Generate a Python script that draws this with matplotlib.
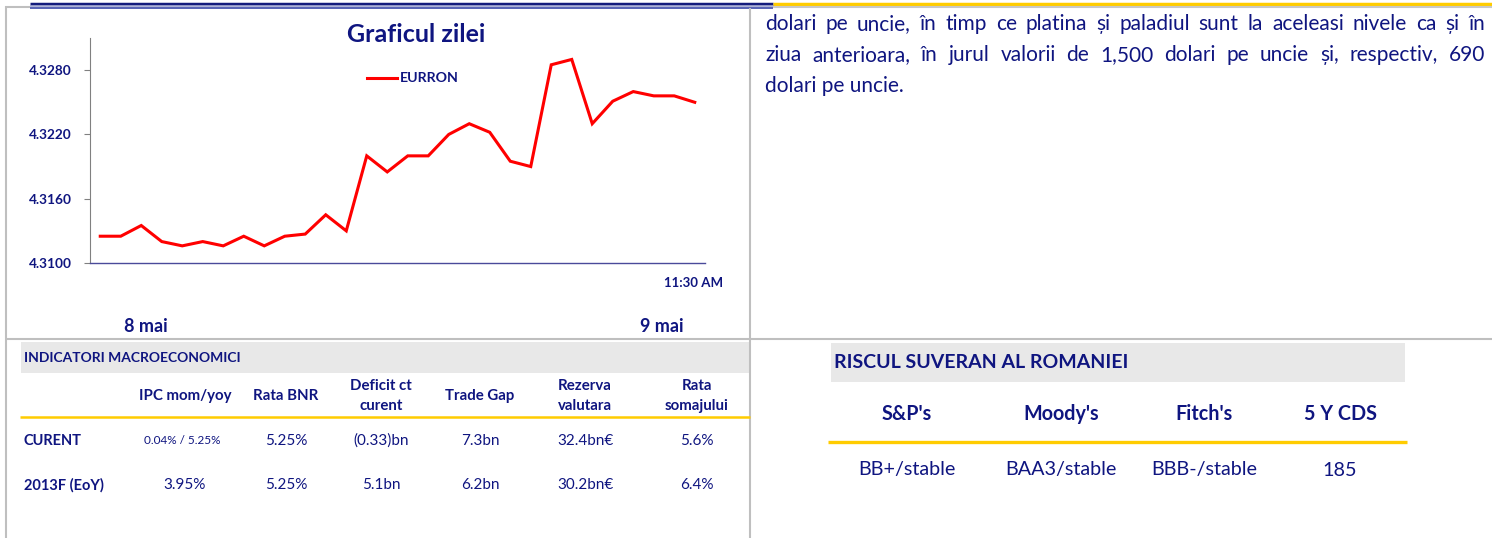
import matplotlib
matplotlib.use("Agg")
import matplotlib.pyplot as plt
from matplotlib.lines import Line2D
from matplotlib.patches import Rectangle

plt.rcParams['font.family'] = ['Lato', 'DejaVu Sans']

W, H = 1492, 538
NAVY = '#0F1580'
GOLD = '#FFCC00'
GREY = '#BFBFBF'
BAND = '#E8E8E8'

# ---------------- data ----------------
eurron = [4.3125, 4.3125, 4.3135, 4.3120, 4.3116, 4.3120, 4.3116, 4.3125, 4.3116, 4.3125,
          4.3127, 4.3145, 4.3130, 4.3200, 4.3185, 4.3200, 4.3200, 4.3220, 4.3230, 4.3222,
          4.3195, 4.3190, 4.3285, 4.3290, 4.3230, 4.3251, 4.3260, 4.3256, 4.3256, 4.3250]
yticks = [4.3100, 4.3160, 4.3220, 4.3280]
ytick_labels = ['4.3100', '4.3160', '4.3220', '4.3280']
chart_title = 'Graficul zilei'
series_name = 'EURRON'
time_label = '11:30 AM'
day_labels = ['8 mai', '9 mai']

paragraph = ['dolari pe uncie, în timp ce platina și paladiul sunt la aceleasi nivele ca și în',
             'ziua anterioara, în jurul valorii de 1,500 dolari pe uncie și, respectiv, 690',
             'dolari pe uncie.']

macro_title = 'INDICATORI MACROECONOMICI'
macro_cols = ['IPC mom/yoy', 'Rata BNR', 'Deficit ct\ncurent', 'Trade Gap', 'Rezerva\nvalutara', 'Rata\nsomajului']
macro_rows = ['CURENT', '2013F (EoY)']
macro_curent = ['0.04% / 5.25%', '5.25%', '(0.33)bn', '7.3bn', '32.4bn€', '5.6%']
macro_2013 = ['3.95%', '5.25%', '5.1bn', '6.2bn', '30.2bn€', '6.4%']

risk_title = 'RISCUL SUVERAN AL ROMANIEI'
risk_cols = ["S&P's", "Moody's", "Fitch's", "5 Y CDS"]
risk_vals = ['BB+/stable', 'BAA3/stable', 'BBB-/stable', '185']

# ---------------- figure ----------------
fig = plt.figure(figsize=(W / 100, H / 100), dpi=100)

def fx(x):
    return x / W

def fy(y):
    return 1 - y / H

def hline(x0, x1, y, color, lw):
    fig.add_artist(Line2D([fx(x0), fx(x1)], [fy(y), fy(y)], color=color, lw=lw,
                          transform=fig.transFigure, solid_capstyle='butt'))

def vline(x, y0, y1, color, lw):
    fig.add_artist(Line2D([fx(x), fx(x)], [fy(y0), fy(y1)], color=color, lw=lw,
                          transform=fig.transFigure, solid_capstyle='butt'))

def band(x0, y0, x1, y1, color):
    fig.add_artist(Rectangle((fx(x0), fy(y1)), fx(x1) - fx(x0), fy(y0) - fy(y1),
                             transform=fig.transFigure, facecolor=color, edgecolor='none'))

def txt(x, y, s, size, bold=False, ha='center', va='center', **kw):
    return fig.text(fx(x), fy(y), s, fontsize=size, fontweight='bold' if bold else 'normal',
                    color=NAVY, ha=ha, va=va, **kw)

# page decorations
hline(30, 773, 4.0, '#141C7C', 2.5)
hline(30, 773, 6.3, '#A8AED4', 1.2)
hline(30, 773, 8.0, '#3A48A8', 1.2)
hline(773, 1492, 4.0, GOLD, 2.5)
hline(773, 1492, 7.0, '#C8C8C8', 1.5)
hline(5, 30, 6.5, GREY, 1.5)
vline(5.5, 6, 538, GREY, 1.5)
vline(750, 8, 538, GREY, 1.5)
hline(5, 1492, 338.5, GREY, 1.5)

# ---------------- chart ----------------
ax = fig.add_axes([fx(90), fy(263), fx(705) - fx(90), fy(38) - fy(263)])
ax.plot(range(len(eurron)), eurron, color='#FF0000', lw=2.2, solid_joinstyle='miter')
ax.set_xlim(-0.5, len(eurron) - 0.5)
ax.set_ylim(4.3100, 4.3310)
ax.set_yticks(yticks)
ax.set_yticklabels(ytick_labels, fontsize=9.8, fontweight='bold', color=NAVY)
ax.set_xticks([])
ax.tick_params(axis='y', length=4, width=0.8, color='#808080', pad=9)
for s in ['top', 'right']:
    ax.spines[s].set_visible(False)
ax.spines['left'].set_color('#808080')
ax.spines['left'].set_linewidth(0.8)
ax.spines['bottom'].set_color('#4A4A9A')
ax.spines['bottom'].set_linewidth(1.0)
ax.patch.set_alpha(0)

txt(416, 34, chart_title, 18, bold=True)
fig.add_artist(Line2D([fx(367), fx(397)], [fy(78), fy(78)], color='#FF0000', lw=2.2,
                      transform=fig.transFigure))
txt(400, 78, series_name, 10.2, bold=True, ha='left')
txt(694, 283, time_label, 9.5, bold=True)
txt(146, 327, day_labels[0], 13, bold=True)
txt(662, 327, day_labels[1], 13, bold=True)

# ---------------- paragraph (justified) ----------------
renderer = fig.canvas.get_renderer()
para_x0, para_x1 = 765, 1485
para_ys = [24, 55, 86]
para_size = 15.0
probe = txt(0, 0, paragraph[0], para_size, ha='left')
natural = probe.get_window_extent(renderer).width
probe.remove()
if natural > 705:
    para_size = para_size * 705 / natural
for i, (line, yy) in enumerate(zip(paragraph, para_ys)):
    if i < len(paragraph) - 1:
        words = line.split(' ')
        arts = [txt(0, yy, w, para_size, ha='left', va='center') for w in words]
        widths = [a.get_window_extent(renderer).width for a in arts]
        gap = (para_x1 - para_x0 - sum(widths)) / (len(words) - 1)
        x = para_x0
        for a, w in zip(arts, widths):
            a.set_x(fx(x))
            x += w + gap
    else:
        txt(para_x0, yy, line, para_size, ha='left', va='center')

# ---------------- macro table ----------------
band(21, 342, 750, 373, BAND)
txt(24, 358, macro_title, 10, bold=True, ha='left')
macro_x = [185, 286, 381, 480, 585, 697]
for x, c in zip(macro_x, macro_cols):
    txt(x, 396, c, 10.8, bold=True, linespacing=1.55)
hline(20, 750, 417, GOLD, 1.8)
txt(24, 441, macro_rows[0], 10.5, bold=True, ha='left')
txt(24, 485, macro_rows[1], 10.5, bold=True, ha='left')
for j, (x, v) in enumerate(zip(macro_x, macro_curent)):
    txt(x - 3 if j == 0 else x, 441, v, 8.5 if j == 0 else 11, ha='center')
for x, v in zip(macro_x, macro_2013):
    txt(x, 485, v, 11)

# ---------------- sovereign risk table ----------------
band(831, 343, 1405, 382, BAND)
txt(834, 363, risk_title, 14, bold=True, ha='left')
risk_x = [907, 1061, 1204, 1340]
for x, c in zip(risk_x, risk_cols):
    txt(x, 414, c, 14.2, bold=True)
hline(828, 1407, 442, GOLD, 2.4)
for x, v in zip(risk_x, risk_vals):
    txt(x, 470, v, 14.2)

fig.savefig('out.png', dpi=100)
